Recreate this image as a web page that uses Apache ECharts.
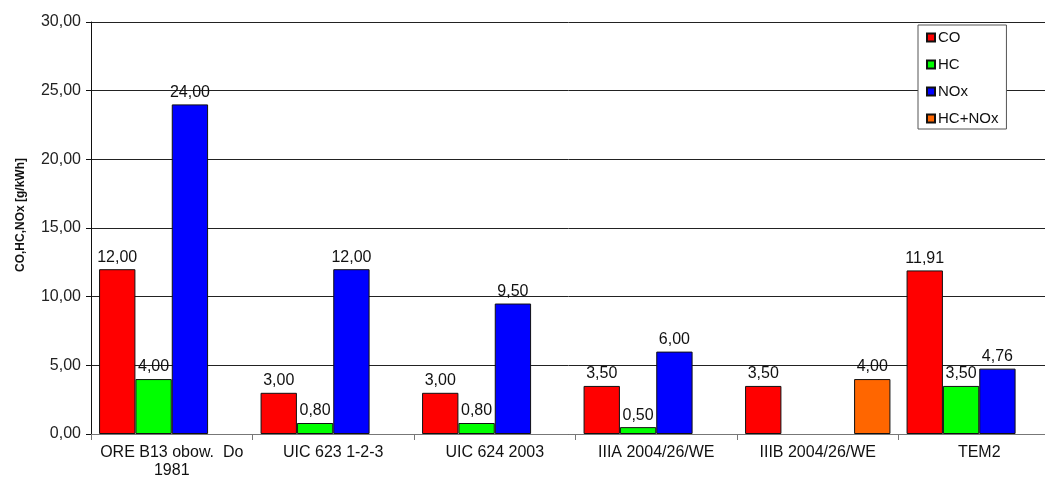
<!DOCTYPE html>
<html>
<head>
<meta charset="utf-8">
<script src="https://cdn.jsdelivr.net/npm/echarts@6/dist/echarts.min.js"></script>
<style>
  html, body { margin: 0; padding: 0; background: #fff; }
  #chart { width: 1045px; height: 478px; }
</style>
</head>
<body>
<div id="chart"></div>
<script>
const categories = ['ORE B13 obow.  Do\n1981', 'UIC 623 1-2-3', 'UIC 624 2003', 'IIIA 2004/26/WE', 'IIIB 2004/26/WE', 'TEM2'];
const coValues = [12.00, 3.00, 3.00, 3.50, 3.50, 11.91];
const hcValues = [4.00, 0.80, 0.80, 0.50, null, 3.50];
const noxValues = [24.00, 12.00, 9.50, 6.00, null, 4.76];
const hcNoxValues = [null, null, null, null, 4.00, null];

const fmt = (v) => v.toFixed(2).replace('.', ',');

function makeSeries(name, data, color) {
    return {
        name: name,
        type: 'bar',
        data: data,
        barGap: '0%',
        barCategoryGap: '10%',
        itemStyle: { color: color, borderColor: '#111', borderWidth: 1 },
        label: {
            show: true,
            position: 'top',
            distance: 4,
            color: '#111',
            fontSize: 16,
            formatter: (p) => fmt(p.value)
        }
    };
}

const chart = echarts.init(document.getElementById('chart'));
const option = {
    animation: false,
    textStyle: { fontFamily: 'Liberation Sans, Arial, sans-serif' },
    grid: { left: 91, top: 22, bottom: 44, right: -15, containLabel: false, outerBoundsMode: 'none' },
    legend: {
        orient: 'vertical',
        left: 918,
        top: 25,
        itemWidth: 8,
        itemHeight: 8,
        itemGap: 12,
        icon: 'rect',
        padding: [5, 8, 3, 8],
        backgroundColor: '#fff',
        borderColor: '#555',
        borderWidth: 1,
        textStyle: { fontSize: 15, color: '#111', padding: [0, 0, 0, -2] },
        data: ['CO', 'HC', 'NOx', 'HC+NOx']
    },
    xAxis: {
        type: 'category',
        data: categories,
        axisLine: { lineStyle: { color: '#777' } },
        axisTick: { show: true, alignWithLabel: false, length: 6, lineStyle: { color: '#777' } },
        axisLabel: { color: '#111', fontSize: 16, margin: 10, lineHeight: 18, interval: 0 }
    },
    yAxis: {
        type: 'value',
        min: 0,
        max: 30,
        interval: 5,
        name: 'CO,HC,NOx [g/kWh]',
        nameLocation: 'middle',
        nameGap: 64,
        nameTextStyle: { fontSize: 12, fontWeight: 'bold', color: '#111', padding: [0, 0, 0, 26] },
        axisLine: { show: true, lineStyle: { color: '#111' } },
        axisTick: { show: true, length: 5, lineStyle: { color: '#111' } },
        axisLabel: { color: '#222', fontSize: 16, margin: 10, formatter: (v) => fmt(v) },
        splitLine: { lineStyle: { color: '#222', width: 1 } }
    },
    series: [
        makeSeries('CO', coValues, '#ff0000'),
        makeSeries('HC', hcValues, '#00ff00'),
        makeSeries('NOx', noxValues, '#0000ff'),
        makeSeries('HC+NOx', hcNoxValues, '#ff6600')
    ]
};
chart.setOption(option);
</script>
</body>
</html>
